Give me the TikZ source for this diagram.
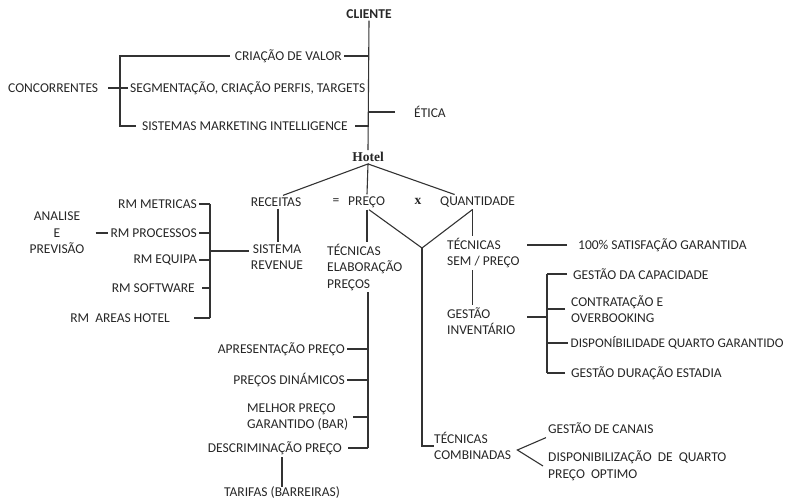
\documentclass[tikz,border=0pt]{standalone}
\usepackage{fontspec}
\setmainfont{Carlito}
\newfontfamily\slabfont{Liberation Serif}
\usetikzlibrary{calc}

\begin{document}
\begin{tikzpicture}[x=1pt,y=-1pt]
    \tikzset{
        lbl/.style={font=\fontsize{13.5}{16.5}\selectfont, text=black!85, inner sep=2pt},
        lbll/.style={lbl, align=left},
        lblc/.style={lbl, align=center},
        linkstyle/.style={line width=1.1pt, black!80}
    }
    \useasboundingbox (0,0) rectangle (787,502);

    % --- 1. CLIENTE ---
    \node[lbl, font=\fontsize{13.5}{16.5}\selectfont\bfseries] (cliente) at (369,14) {CLIENTE};
    \node[lbl, anchor=east] (criacao) at (344,56) {CRIAÇÃO DE VALOR};
    \node[lbl, anchor=west] (segment) at (128,88) {SEGMENTAÇÃO, CRIAÇÃO PERFIS, TARGETS};
    \node[lbl, anchor=east] (sistemas) at (350,126) {SISTEMAS MARKETING INTELLIGENCE};
    \node[lbl, anchor=west] (concorr) at (6,88) {CONCORRENTES};
    \node[lbl, anchor=west] (etica) at (412,112) {ÉTICA};
    \node[lbl, font=\fontsize{13.5}{16.5}\slabfont\bfseries] (hotel) at (368,157) {Hotel};

    \coordinate (cbar) at (120,0);
    \draw[linkstyle] (cliente.south) -- (hotel.north);
    \foreach \n/\s in {criacao/0,segment/0,sistemas/5} {
        \draw[linkstyle, shorten <=\s pt] (\n.east) -- (\n.east -| cliente.south);
    }
    \draw[linkstyle, shorten <=17pt] (etica.west) -- (etica.west -| cliente.south);
    \draw[linkstyle, shorten <=3pt, shorten >=4pt] (criacao.west) -- (criacao.west -| cbar)
        -- (sistemas.west -| cbar) -- (sistemas.west);
    \draw[linkstyle, shorten <=8pt] (concorr.east) -- (segment.west);

    % --- 2. RECEITAS = PRECO x QUANTIDADE ---
    \node[lbl] (receitas) at (276,202) {RECEITAS};
    \node[lbl] (igual) at (336,202) {=};
    \node[lbl, anchor=west] (preco) at (346,202) {PREÇO};
    \node[lbl, font=\fontsize{13.5}{16.5}\slabfont\bfseries] (vezes) at (418,201) {x};
    \node[lbl, anchor=west] (quant) at (438,202) {QUANTIDADE};

    \draw[linkstyle] ([xshift=7pt]receitas.north) -- (hotel.south) -- ([xshift=-1pt]hotel.south |- preco.north);
    \draw[linkstyle] (hotel.south) -- ([xshift=-23pt]quant.north);

    % Revenue
    \node[lblc] (sisrev) at (277,257) {SISTEMA\\REVENUE};
    \draw[linkstyle] ([xshift=2pt]receitas.south) -- ([xshift=2pt]receitas.south |- sisrev.north);

    \node[lbl, anchor=east] (rmmet) at (199,204) {RM METRICAS};
    \node[lbl, anchor=east] (rmproc) at (199,233) {RM PROCESSOS};
    \node[lbl, anchor=east] (rmequ) at (199,260) {RM EQUIPA};
    \node[lbl, anchor=east] (rmsoft) at (197,288) {RM SOFTWARE};
    \node[lbl, anchor=east] (rmareas) at (172,318) {RM\ \ AREAS HOTEL};
    \node[lblc] (analise) at (57,233) {ANALISE\\E\\PREVISÃO};

    \coordinate (rbar) at (210,0);
    \foreach \n/\s in {rmmet/0,rmproc/0,rmequ/0,rmsoft/5,rmareas/22} {
        \draw[linkstyle, shorten <=\s pt] (\n.east) -- (\n.east -| rbar);
    }
    \draw[linkstyle] (rmmet.east -| rbar) -- (rmareas.east -| rbar);
    \draw[linkstyle] (rbar |- 0,251) -- (sisrev.west |- 0,251);
    \draw[linkstyle, shorten <=9pt] (analise.east) -- (rmproc.west);

    % --- 3. TECNICAS ELABORACAO PRECOS ---
    \node[lbll, anchor=west] (tecelab) at (325,267) {TÉCNICAS\\ELABORAÇÃO\\PREÇOS};
    \coordinate (ptop) at ([xshift=-1pt]hotel.south |- preco.south);
    \draw[linkstyle] (ptop) -- (ptop |- tecelab.north);

    \node[lbl, anchor=east] (apres) at (347,349) {APRESENTAÇÃO PREÇO};
    \node[lbl, anchor=east] (precdin) at (347,380) {PREÇOS DINÁMICOS};
    \node[lbll, anchor=west] (melhor) at (245,417) {MELHOR PREÇO\\GARANTIDO (BAR)};
    \node[lbl, anchor=east] (descr) at (344,448) {DESCRIMINAÇÃO PREÇO};
    \node[lbl] (tarifas) at (282,492) {TARIFAS (BARREIRAS)};

    \coordinate (pbar) at (368,0);
    \draw[linkstyle] (pbar |- tecelab.south) -- (pbar |- descr.east);
    \foreach \n/\s in {apres/0,precdin/0,melhor/3,descr/4} {
        \draw[linkstyle, shorten <=\s pt] (\n.east) -- (\n.east -| pbar);
    }
    \draw[linkstyle] ([yshift=-3pt]tarifas.north) -- (tarifas.north |- descr.south);

    % --- 4. TECNICAS SEM / PRECO ---
    \node[lbll, anchor=west] (tecsem) at (445,253) {TÉCNICAS\\SEM / PREÇO};
    \node[lbl, anchor=west] (satisf) at (576,245) {100\% SATISFAÇÃO GARANTIDA};
    \node[lbll, anchor=west] (gestinv) at (445,321) {GESTÃO\\INVENTÁRIO};

    \coordinate (vbot) at (422,248);
    \draw[linkstyle] ([xshift=2pt]ptop) -- (vbot) -- ([xshift=-5pt]quant.south);
    \draw[linkstyle] ([xshift=-5pt]quant.south) -- ([xshift=-5pt]quant.south |- tecsem.north);
    \draw[linkstyle] ([xshift=-5pt]quant.south |- tecsem.south) -- ([xshift=-5pt]quant.south |- gestinv.north);
    \draw[linkstyle, shorten <=9pt, shorten >=5pt] (satisf.west) -- (satisf.west -| tecsem.east);

    \node[lbl, anchor=west] (gestcap) at (571,274) {GESTÃO DA CAPACIDADE};
    \node[lbll, anchor=west] (contrat) at (569,309) {CONTRATAÇÃO E\\OVERBOOKING};
    \node[lbl, anchor=west, inner xsep=0.5pt, font=\fontsize{13.2}{16.5}\selectfont] (dispgar) at (570,343) {DISPONÍBILIDADE QUARTO GARANTIDO};
    \node[lbl, anchor=west] (gestdur) at (569,373) {GESTÃO DURAÇÃO ESTADIA};

    \coordinate (ibar) at (547,0);
    \draw[linkstyle] (ibar |- gestcap.west) -- (ibar |- gestdur.west);
    \foreach \n/\s in {gestcap/4,contrat/4,dispgar/2.5,gestdur/4} {
        \draw[linkstyle, shorten <=\s pt] (\n.west) -- (\n.west -| ibar);
    }
    \draw[linkstyle, shorten <=10pt] (gestinv.east |- 0,317) -- (ibar |- 0,317);

    % --- 5. TECNICAS COMBINADAS ---
    \node[lbll, anchor=west] (teccomb) at (432,446) {TÉCNICAS\\COMBINADAS};
    \node[lbl, anchor=west] (gestcan) at (546,428) {GESTÃO DE CANAIS};
    \node[lbll, anchor=west] (dispopt) at (546,466) {DISPONIBILIZAÇÃO\ \ DE\ \ QUARTO\\PREÇO\ \ OPTIMO};

    \draw[linkstyle] (vbot) -- (vbot |- teccomb.west) -- ([xshift=2pt]teccomb.west);
    \coordinate (capex) at ($(teccomb.east)+(4,4)$);
    \draw[linkstyle] ([yshift=-2pt]gestcan.south west) -- (capex) -- ([shift={(-3,0)}]dispopt.west);

\end{tikzpicture}
\end{document}
